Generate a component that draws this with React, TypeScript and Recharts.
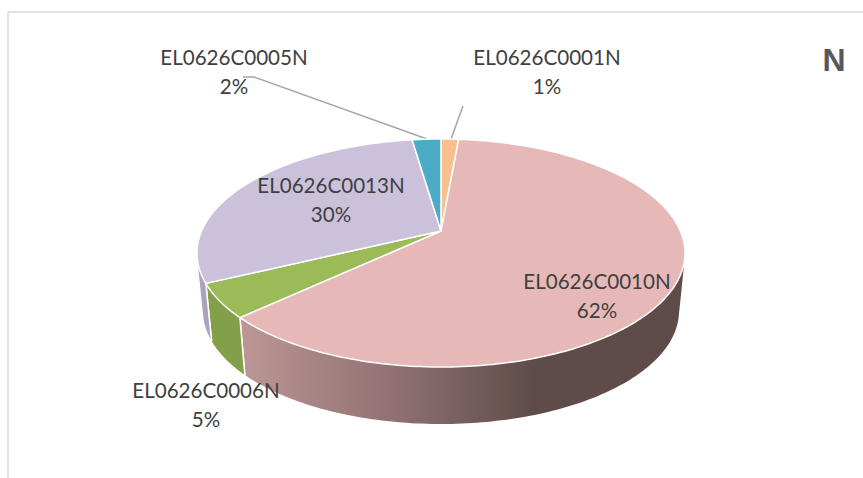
import React from 'react';
import { PieChart, Pie, Cell } from 'recharts';

// clockwise from 12 o'clock, same order as the picture
const codes = ['EL0626C0001N', 'EL0626C0010N', 'EL0626C0006N', 'EL0626C0013N', 'EL0626C0005N'];
const shares = [1.4, 61.6, 4.8, 29.9, 2.3];
const shareLabels = ['1%', '62%', '5%', '30%', '2%'];
const topColors = ['#F9BF8F', '#E6B9B8', '#9BBB59', '#CCC1DA', '#4BACC6'];
const wallColors = ['#C79A72', 'url(#pinkWall)', '#82A04A', '#ABA3BE', '#3C8A9E'];
const labelCenters = [
  [547, 65],
  [597, 289],
  [206, 398],
  [331, 193],
  [234, 65],
];

const rows = codes.map((name, i) => ({ name, value: shares[i] }));

const TOP = { cx: 441, cy: 253, rx: 244, ry: 114 };
const BOTTOM = { cx: 441, cy: 311, rx: 238, ry: 113 };
const TILT = 0.193; // pushes the hub up from the middle of the ellipse

const project = (deg: number, e: typeof TOP) => {
  const rad = (deg * Math.PI) / 180;
  const y = Math.sin(rad);
  const d = 1 + TILT * y;
  const a = e.rx * Math.sqrt(1 - TILT * TILT);
  return [e.cx + (a * Math.cos(rad)) / d, e.cy - (e.ry * y + TILT * e.ry) / d];
};

const arc = (from: number, to: number, e: typeof TOP) => {
  const n = Math.max(2, Math.ceil(Math.abs(to - from)));
  const pts = [];
  for (let i = 0; i <= n; i++) pts.push(project(from + ((to - from) * i) / n, e));
  return pts;
};

const toPath = (pts: number[][]) => 'M' + pts.map((p) => `${p[0].toFixed(2)},${p[1].toFixed(2)}`).join('L') + 'Z';

const signedArea = (pts: number[][]) =>
  pts.reduce((sum, p, i) => {
    const q = pts[(i + 1) % pts.length];
    return sum + p[0] * q[1] - q[0] * p[1];
  }, 0);

const TopSlice = (props: any) => {
  const hub = [TOP.cx, TOP.cy - TILT * TOP.ry];
  const d = toPath([hub, ...arc(props.startAngle, props.endAngle, TOP)]);
  return <path d={d} fill={props.fill} stroke="#fff" strokeWidth={1.5} strokeLinejoin="round" />;
};

// one quad per degree in a single path, all wound the same way, so the outline
// follows the tangent between both rims without seams
const WallSlice = (props: any) => {
  const upper = arc(props.startAngle, props.endAngle, TOP);
  const lower = arc(props.startAngle, props.endAngle, BOTTOM);
  const last = upper.length - 1;
  const quads = upper.slice(0, last).map((p, i) => {
    const quad = [p, upper[i + 1], lower[i + 1], lower[i]];
    return toPath(signedArea(quad) < 0 ? quad.reverse() : quad);
  });
  return (
    <g>
      <path d={quads.join('')} fill={props.fill} fillRule="nonzero" />
      <path d={toPath([upper[0], lower[0]])} stroke="#fff" strokeWidth={1.5} fill="none" />
      <path d={toPath([upper[last], lower[last]])} stroke="#fff" strokeWidth={1.5} fill="none" />
    </g>
  );
};

const SliceLabel = (props: any) => {
  const [x, y] = labelCenters[props.index];
  return (
    <text textAnchor="middle" fontFamily="Lato, sans-serif" fontSize={20.6} fill="#404040">
      <tspan x={x} y={y}>{codes[props.index]}</tspan>
      <tspan x={x} y={y + 29}>{shareLabels[props.index]}</tspan>
    </text>
  );
};

export default function App() {
  return (
    <div style={{ position: 'absolute', left: 0, top: 0, width: 863, height: 478 }}>
      <PieChart width={863} height={478} margin={{ top: 0, right: 0, bottom: 0, left: 0 }}>
        <defs>
          <linearGradient id="pinkWall" gradientUnits="userSpaceOnUse" x1={240} y1={0} x2={690} y2={0}>
            <stop offset="0" stopColor="#BC9795" />
            <stop offset="0.35" stopColor="#8F7071" />
            <stop offset="0.65" stopColor="#5F4C48" />
            <stop offset="1" stopColor="#5F4C48" />
          </linearGradient>
        </defs>
        <line x1={8} y1={12} x2={863} y2={12} stroke="#D9D9D9" strokeWidth={1.5} />
        <line x1={8} y1={12} x2={8} y2={478} stroke="#D9D9D9" strokeWidth={1.5} />
        <Pie
          data={rows}
          dataKey="value"
          nameKey="name"
          cx={441}
          cy={231}
          outerRadius={100}
          startAngle={90}
          endAngle={-270}
          shape={WallSlice}
          isAnimationActive={false}
        >
          {rows.map((r, i) => (
            <Cell key={r.name} fill={wallColors[i]} />
          ))}
        </Pie>
        <Pie
          data={rows}
          dataKey="value"
          nameKey="name"
          cx={441}
          cy={231}
          outerRadius={100}
          startAngle={90}
          endAngle={-270}
          shape={TopSlice}
          label={SliceLabel}
          labelLine={false}
          isAnimationActive={false}
        >
          {rows.map((r, i) => (
            <Cell key={r.name} fill={topColors[i]} />
          ))}
        </Pie>
        <polyline points="243,77 254,77 427,139" fill="none" stroke="#A6A6A6" strokeWidth={1.5} />
        <polyline points="463,106 451,139" fill="none" stroke="#A6A6A6" strokeWidth={1.5} />
        <text x={834} y={71} textAnchor="middle" fontFamily="Liberation Sans, Arial, sans-serif" fontWeight="bold" fontSize={32} fill="#595959">
          N
        </text>
      </PieChart>
    </div>
  );
}
